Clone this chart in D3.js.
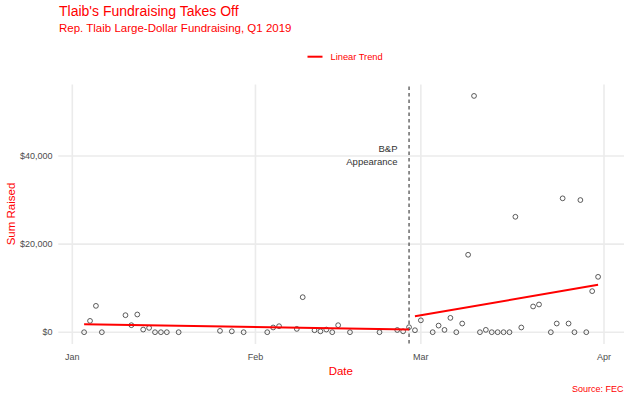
<!DOCTYPE html>
<html><head><meta charset="utf-8">
<script src="https://cdn.jsdelivr.net/npm/d3@7"></script>
<style>body{margin:0;background:#fff}svg{display:block;font-family:"Liberation Sans",Arial,sans-serif}</style>
</head><body><svg id="c" width="630" height="394"></svg>
<script>
const dates = ["2019-01-03","2019-01-04","2019-01-05","2019-01-06","2019-01-10","2019-01-11","2019-01-12","2019-01-13","2019-01-14","2019-01-15","2019-01-16","2019-01-17","2019-01-19","2019-01-26","2019-01-28","2019-01-30",
"2019-02-03","2019-02-04","2019-02-05","2019-02-08","2019-02-09","2019-02-11","2019-02-12","2019-02-13","2019-02-14","2019-02-15","2019-02-17","2019-02-22","2019-02-25","2019-02-26","2019-02-27","2019-02-28",
"2019-03-01","2019-03-03","2019-03-04","2019-03-05","2019-03-06","2019-03-07","2019-03-08","2019-03-09","2019-03-10","2019-03-11","2019-03-12","2019-03-13","2019-03-14","2019-03-15","2019-03-16","2019-03-17","2019-03-18","2019-03-20","2019-03-21","2019-03-23","2019-03-24","2019-03-25","2019-03-26","2019-03-27","2019-03-28","2019-03-29","2019-03-30","2019-03-31"];
const sums = [0,2570,5980,0,3860,1590,4020,600,980,0,0,0,0,300,200,0,
0,1070,1360,750,7950,450,200,600,0,1590,0,0,500,200,1140,450,
2700,0,1500,520,3250,0,1970,17580,53640,0,530,0,0,0,0,26200,1070,5840,6290,0,1970,30390,1970,0,30000,0,9320,12570];
const trendPreDates = ["2019-01-03","2019-02-27"];
const trendPreValues = [1800,600];
const trendPostDates = ["2019-02-28","2019-03-31"];
const trendPostValues = [3640,10750];
const eventDate = "2019-02-27";
const xTickDates = ["2019-01-01","2019-02-01","2019-03-01","2019-04-01"];
const xTickLabels = ["Jan","Feb","Mar","Apr"];
const yTicks = [0,20000,40000];

const parse = d3.utcParse("%Y-%m-%d");
const svg = d3.select("#c");
const x = d3.scaleUtc().domain([parse("2019-01-01"), parse("2019-04-01")]).range([72.3, 604]);
const y = d3.scaleLinear().domain([0, 40000]).range([332.2, 156]);
const panel = {l:58.3, r:624, t:84.5, b:344};
const red = "#ff0000";

// grid
svg.append("g").selectAll("line").data(yTicks).join("line")
  .attr("x1", panel.l).attr("x2", panel.r)
  .attr("y1", d=>y(d)).attr("y2", d=>y(d))
  .attr("stroke", "#ebebeb").attr("stroke-width", 1.6);
svg.append("g").selectAll("line").data(xTickDates).join("line")
  .attr("x1", d=>x(parse(d))).attr("x2", d=>x(parse(d)))
  .attr("y1", panel.t).attr("y2", panel.b)
  .attr("stroke", "#ebebeb").attr("stroke-width", 1.6);

// y tick labels
const fmt = d3.format("$,");
svg.append("g").selectAll("text").data(yTicks).join("text")
  .attr("x", 52.5).attr("y", d=>y(d)).attr("dy", "0.35em")
  .attr("text-anchor", "end").attr("font-size", 9).attr("fill", "#4d4d4d")
  .text(d=>fmt(d));
// x tick labels
svg.append("g").selectAll("text").data(xTickDates).join("text")
  .attr("x", d=>x(parse(d))).attr("y", 359.5)
  .attr("text-anchor", "middle").attr("font-size", 9).attr("fill", "#4d4d4d")
  .text((d,i)=>xTickLabels[i]);

// event line
svg.append("line")
  .attr("x1", x(parse(eventDate))).attr("x2", x(parse(eventDate)))
  .attr("y1", panel.t + 2).attr("y2", panel.b)
  .attr("stroke", "#333").attr("stroke-width", 1.1).attr("stroke-dasharray", "3.5,3");
svg.append("text").attr("x", 397.5).attr("y", 151.5).attr("text-anchor", "end")
  .attr("font-size", 9.5).attr("fill", "#333").text("B&P");
svg.append("text").attr("x", 397.5).attr("y", 165).attr("text-anchor", "end")
  .attr("font-size", 9.5).attr("fill", "#333").text("Appearance");

// points
const pts = dates.map((d,i)=>({date: parse(d), v: sums[i]}));
svg.append("g").selectAll("circle").data(pts).join("circle")
  .attr("cx", d=>x(d.date)).attr("cy", d=>y(d.v)).attr("r", 2.4)
  .attr("fill", "none").attr("stroke", "#333").attr("stroke-width", 0.8);

// trends
const line = d3.line().x(d=>x(d.date)).y(d=>y(d.v));
const pre = trendPreDates.map((d,i)=>({date: parse(d), v: trendPreValues[i]}));
const post = trendPostDates.map((d,i)=>({date: parse(d), v: trendPostValues[i]}));
[pre, post].forEach(seg => svg.append("path").datum(seg).attr("d", line)
  .attr("fill", "none").attr("stroke", red).attr("stroke-width", 2));

// legend
svg.append("line").attr("x1", 307.5).attr("x2", 322.5).attr("y1", 56.7).attr("y2", 56.7)
  .attr("stroke", red).attr("stroke-width", 2);
svg.append("text").attr("x", 330.5).attr("y", 60).attr("font-size", 9.3).attr("fill", red).text("Linear Trend");

// titles
svg.append("text").attr("x", 59).attr("y", 15.5).attr("font-size", 14).attr("fill", red).text("Tlaib's Fundraising Takes Off");
svg.append("text").attr("x", 59).attr("y", 32.3).attr("font-size", 11.5).attr("fill", red).text("Rep. Tlaib Large-Dollar Fundraising, Q1 2019");
// axis titles
svg.append("text").attr("x", 340.8).attr("y", 374.5).attr("text-anchor", "middle").attr("font-size", 11.5).attr("fill", red).text("Date");
svg.append("text").attr("transform", "translate(14.5,214) rotate(-90)").attr("text-anchor", "middle").attr("font-size", 11.5).attr("fill", red).text("Sum Raised");
svg.append("text").attr("x", 623.5).attr("y", 392).attr("text-anchor", "end").attr("font-size", 9).attr("fill", red).text("Source: FEC");
</script></body></html>
